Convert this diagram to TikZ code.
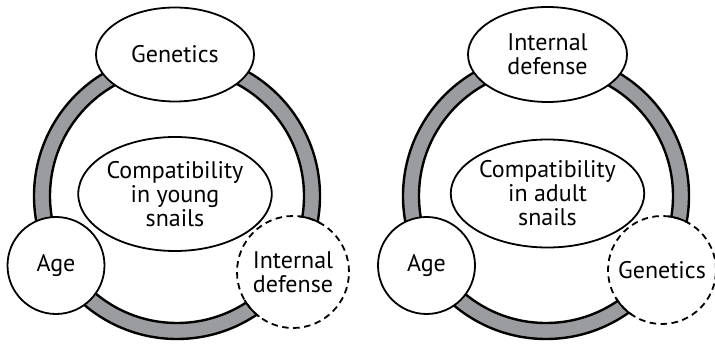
\documentclass[tikz,border=0pt]{standalone}
\usepackage{fontspec}
\setmainfont{PT Sans}
\usetikzlibrary{shapes.geometric}
\definecolor{ringgray}{RGB}{155,156,160}
\tikzset{
  x=1pt, y=-1pt,
  ringline/.style={line width=2.4pt, draw=black, fill=ringgray, even odd rule},
  factor/.style={draw=black, fill=white, line width=1.8pt, inner sep=0pt,
    align=center, font=\fontsize{24}{24}\selectfont},
  topbox/.style={factor, ellipse},
  centerbox/.style={factor, ellipse},
  agebox/.style={factor, circle},
  dashbox/.style={factor, circle, dash pattern=on 6.5pt off 4.5pt},
}
\begin{document}
\begin{tikzpicture}
\useasboundingbox (0,0) rectangle (715,344);
% ---------- left diagram ----------
\coordinate (Lc) at (177,196);
\draw[ringline] (Lc) circle (143) (Lc) circle (127);
\node[dashbox, minimum size=112pt] (Lint) at (293,272) {Internal\\defense};
\begin{scope}[even odd rule]
  \clip (Lc) circle (146) (Lc) circle (124);
  \draw[line width=1.8pt] (Lint.center) circle (56);
\end{scope}
\node[topbox, minimum width=158pt, minimum height=94pt] (Lgen) at (175,54.5) {Genetics};
\node[centerbox, minimum width=186pt, minimum height=114pt] (Lcomp) at (175,194) {Compatibility\\in young\\snails};
\node[agebox, minimum size=97pt] (Lage) at (56,265.5) {Age};
% ---------- right diagram ----------
\coordinate (Rc) at (546,196);
\draw[ringline] (Rc) circle (143) (Rc) circle (127);
\node[dashbox, minimum size=108pt] (Rgen) at (662,270) {Genetics};
\begin{scope}[even odd rule]
  \clip (Rc) circle (146) (Rc) circle (124);
  \draw[line width=1.8pt] (Rgen.center) circle (54);
\end{scope}
\node[topbox, minimum width=159pt, minimum height=95pt] (Rint) at (547.5,54.5) {Internal\\defense};
\node[centerbox, minimum width=182pt, minimum height=108pt] (Rcomp) at (547.5,193.5) {Compatibility\\in adult\\snails};
\node[agebox, minimum size=97pt] (Rage) at (426.5,265.5) {Age};
\end{tikzpicture}
\end{document}
